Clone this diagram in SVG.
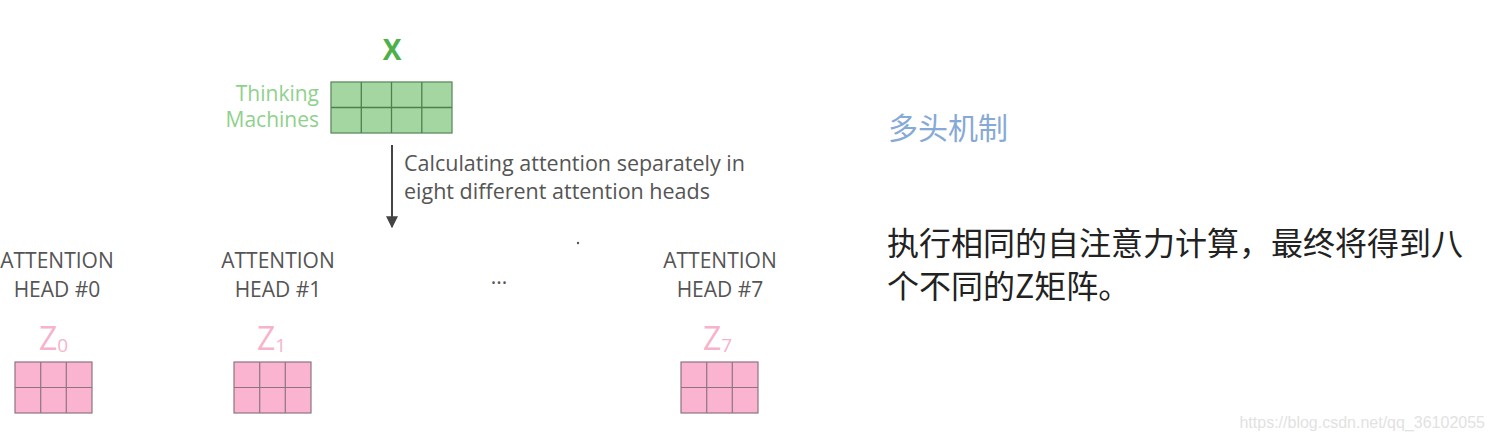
<svg xmlns="http://www.w3.org/2000/svg" width="1494" height="440" viewBox="0 0 1494 440">
<style>
.lbl{font-family:"Open Sans","Liberation Sans",sans-serif;font-size:21px;fill:#555;text-anchor:middle}
.cap{font-family:"Open Sans","Liberation Sans",sans-serif;font-size:21.5px;fill:#555}
.tm{font-family:"Open Sans","Liberation Sans",sans-serif;font-size:21px;fill:#8fd18c;text-anchor:end}
.z{font-family:"Open Sans","Liberation Sans",sans-serif;font-size:32px;fill:#f6b3cb}
.zs{font-size:19px}
.pink rect{fill:#fbb4cf}
.pink line{stroke:#8e7480;stroke-width:1.2}
.pink rect.o{fill:none;stroke:#8e7480;stroke-width:1.2}
.cn{font-family:"Noto Sans CJK SC",sans-serif}
</style>
<defs>
<marker id="ah" viewBox="0 0 10 10" refX="9" refY="5" markerWidth="6" markerHeight="6" orient="auto"><path d="M0,0 L10,5 L0,10 z" fill="#444"/></marker>
<g id="zm" class="pink">
<rect x="0" y="0" width="77" height="51"/>
<line x1="25.7" y1="0" x2="25.7" y2="51"/><line x1="51.3" y1="0" x2="51.3" y2="51"/>
<line x1="0" y1="25.5" x2="77" y2="25.5"/>
<rect class="o" x="0" y="0" width="77" height="51"/>
</g>
</defs>
<rect width="1494" height="440" fill="#fff"/>

<g id="x-node">
<text x="392" y="60" text-anchor="middle" font-family="Open Sans, Liberation Sans, sans-serif" font-weight="bold" font-size="28" fill="#4db04a">X</text>
<text class="tm" x="319" y="101">Thinking</text>
<text class="tm" x="319" y="127">Machines</text>
<rect x="331" y="82" width="121" height="51" fill="#a3d6a0" stroke="#5c8c5c" stroke-width="1.3"/>
<g stroke="#4f7f4f" stroke-width="1.3">
<line x1="361.3" y1="82" x2="361.3" y2="133"/><line x1="391.5" y1="82" x2="391.5" y2="133"/><line x1="421.8" y1="82" x2="421.8" y2="133"/>
<line x1="331" y1="107.5" x2="452" y2="107.5"/>
</g>
</g>

<g id="connectors">
<line x1="392" y1="145" x2="392" y2="227" stroke="#444" stroke-width="2" marker-end="url(#ah)"/>
</g>
<g id="arrow-label">
<text class="cap" x="404" y="171">Calculating attention separately in</text>
<text class="cap" x="404" y="199">eight different attention heads</text>
</g>

<g id="head0">
<text class="lbl" x="57" y="268">ATTENTION</text>
<text class="lbl" x="57" y="297">HEAD #0</text>
<text class="z" x="39" y="350">Z<tspan class="zs" dy="2">0</tspan></text>
<use href="#zm" x="15" y="362"/>
</g>
<g id="head1">
<text class="lbl" x="278" y="268">ATTENTION</text>
<text class="lbl" x="278" y="297">HEAD #1</text>
<text class="z" x="257" y="350">Z<tspan class="zs" dy="2">1</tspan></text>
<use href="#zm" x="234" y="362"/>
</g>
<g id="ellipsis">
<text class="lbl" x="499" y="284" font-size="16">...</text>
<circle cx="578" cy="243" r="1.2" fill="#555"/>
</g>
<g id="head7">
<text class="lbl" x="720" y="268">ATTENTION</text>
<text class="lbl" x="720" y="297">HEAD #7</text>
<text class="z" x="703" y="350">Z<tspan class="zs" dy="2">7</tspan></text>
<use href="#zm" x="681" y="362"/>
</g>

<g id="notes">
<text class="cn" x="888" y="139" font-size="30" fill="#86a9d6">多头机制</text>
<text class="cn" x="887" y="255" font-size="32" fill="#222">执行相同的自注意力计算，最终将得到八</text>
<text class="cn" x="887" y="298" font-size="32" fill="#222">个不同的Z矩阵。</text>
</g>
<text x="1485" y="428" text-anchor="end" font-family="Liberation Sans, Arial, sans-serif" font-size="16" fill="#e2e2e2">https://blog.csdn.net/qq_36102055</text>
</svg>
